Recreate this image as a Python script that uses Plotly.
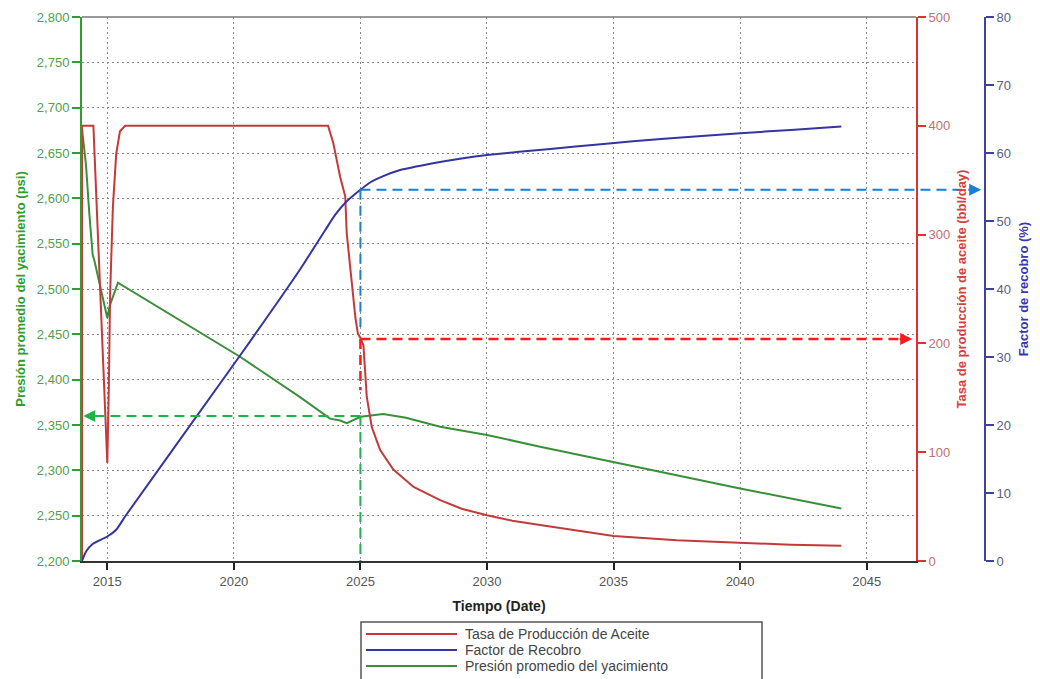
import plotly.graph_objects as go

# ---------------- data ----------------
rate_t = [2014.0, 2014.0, 2014.45, 2015.0, 2015.06, 2015.11, 2015.22,
          2015.35, 2015.5, 2015.7, 2023.72, 2023.93, 2024.2, 2024.4, 2024.46, 2024.6, 2024.8,
          2024.9, 2025.0, 2025.12, 2025.19, 2025.25, 2025.45, 2025.78, 2026.3, 2027.1,
          2028.15, 2029.0, 2030.0, 2031.0, 2032.1, 2033.5, 2035.0, 2037.5, 2040.0, 2042.0, 2044.0]
rate_v = [0, 400, 400, 90, 160, 245, 325,
          374, 395, 400, 400, 384, 353, 335, 301, 270, 224,
          209, 205, 198, 175, 151, 123, 102, 84, 68,
          56, 48, 42, 37, 33, 28, 23, 19, 16.5, 15, 14]

rf_t = [2014.0, 2014.16, 2014.42, 2015.0, 2015.35, 2015.75, 2020.26, 2022.6, 2023.6, 2024.0,
        2024.46, 2025.0, 2025.4, 2025.9, 2026.57, 2027.2, 2027.87, 2029.0, 2030.0, 2032.5,
        2034.5, 2037.0, 2040.0, 2042.0, 2044.0]
rf_v = [0, 1.4, 2.5, 3.6, 4.6, 6.8, 30.3, 42.8, 48.6, 50.9,
        52.9, 54.6, 55.7, 56.6, 57.5, 58.0, 58.5, 59.2, 59.7, 60.6,
        61.3, 62.1, 62.9, 63.4, 63.9]

p_t = [2014.0, 2014.16, 2014.29, 2014.42, 2014.5, 2015.0, 2015.1, 2015.42, 2020.26, 2022.6,
       2023.8, 2024.2, 2024.46, 2025.0, 2025.9, 2026.8, 2028.15, 2030.0, 2032.1, 2035.0, 2040.0, 2044.0]
p_v = [2677, 2636, 2583, 2538, 2530, 2468, 2482, 2507, 2425, 2381,
       2357, 2355, 2352, 2359, 2362, 2358, 2348, 2339, 2326, 2309, 2280, 2258]

x_ticks = [2015, 2020, 2025, 2030, 2035, 2040, 2045]
x_range = [2014.0, 2046.95]

legend_names = ["Tasa de Producción de Aceite", "Factor de Recobro", "Presión promedio del yacimiento"]

# read-off values (dashed guide lines)
guide_year = 2025
guide_p = 2360
guide_rate = 204
guide_rf = 54.6
guide_rate_low = 157
guide_rf_low = 34.4

# ---------------- styles ----------------
C_RATE = "#c43a3a"
C_RF = "#3535a0"
C_P = "#3a8f3a"
FONT = "Liberation Sans, Arial, sans-serif"

X_DOMAIN_END = 834 / 948
BLUE_POS = (985 - 82) / 948


def xpaper(xv):
    return (xv - x_range[0]) / (x_range[1] - x_range[0]) * X_DOMAIN_END


fig = go.Figure()
fig.add_trace(go.Scatter(x=rate_t, y=rate_v, mode="lines", name=legend_names[0],
                         line=dict(color=C_RATE, width=2), yaxis="y2", showlegend=False))
fig.add_trace(go.Scatter(x=rf_t, y=rf_v, mode="lines", name=legend_names[1],
                         line=dict(color=C_RF, width=2, shape="spline", smoothing=0.6),
                         yaxis="y3", showlegend=False))
fig.add_trace(go.Scatter(x=p_t, y=p_v, mode="lines", name=legend_names[2],
                         line=dict(color=C_P, width=2), yaxis="y", showlegend=False))

grid = dict(showgrid=True, gridcolor="#8a8a8a", gridwidth=1, griddash="2px,3px")

fig.update_layout(
    width=1040, height=679,
    margin=dict(l=82, r=10, t=17, b=118, pad=0),
    paper_bgcolor="white", plot_bgcolor="white",
    font=dict(family=FONT, size=13, color="#444"),
    xaxis=dict(domain=[0, X_DOMAIN_END], range=x_range, tickvals=x_ticks,
               ticks="outside", ticklen=7, tickwidth=2, tickcolor="#222",
               showline=True, linecolor="#333", linewidth=2, zeroline=False,
               tickfont=dict(size=13, color="#555"),
               title=dict(text="Tiempo (Date)", font=dict(size=14, color="#222", weight="bold"), standoff=14),
               **grid),
    yaxis=dict(range=[2200, 2800], dtick=50, tickformat=",", ticks="outside", ticklen=8,
               tickwidth=2, tickcolor="#2f9e2f", showline=True, linecolor="#2f9e2f", linewidth=2,
               zeroline=False, tickfont=dict(size=13, color="#4f9f4f"),
               title=dict(text="Presión promedio del yacimiento (psi)",
                          font=dict(size=13, color="#2f9e2f", weight="bold"), standoff=8),
               **grid),
    yaxis2=dict(overlaying="y", side="right", anchor="x", range=[0, 500], dtick=100,
                ticks="outside", ticklen=8, tickwidth=2, tickcolor="#e03030",
                showline=True, linecolor="#e03030", linewidth=2, showgrid=False, zeroline=False,
                tickfont=dict(size=13, color="#c07070"),
                title=dict(text="Tasa de producción de aceite (bbl/day)",
                           font=dict(size=13, color="#d84040", weight="bold"), standoff=8)),
    yaxis3=dict(overlaying="y", side="right", anchor="free", position=BLUE_POS, range=[0, 80], dtick=10,
                ticks="outside", ticklen=8, tickwidth=2, tickcolor="#4040a0",
                showline=True, linecolor="#4040a0", linewidth=2, showgrid=False, zeroline=False,
                tickfont=dict(size=13, color="#5a6080"),
                title=dict(text="Factor de recobro (%)",
                           font=dict(size=13, color="#3838b0", weight="bold"), standoff=8)),
)

shapes = []
# top border
shapes.append(dict(type="line", xref="paper", yref="paper", x0=0, x1=X_DOMAIN_END, y0=1, y1=1,
                   line=dict(color="#777", width=1.5)))
DASH = "10px,6px"
# green guide
shapes.append(dict(type="line", xref="x", yref="y", x0=guide_year, x1=x_range[0] + 0.3,
                   y0=guide_p, y1=guide_p, line=dict(color="#1db34a", width=2, dash=DASH)))
shapes.append(dict(type="line", xref="x", yref="y", x0=guide_year, x1=guide_year,
                   y0=guide_p, y1=2200, line=dict(color="#1db34a", width=2, dash=DASH)))
# red guide
shapes.append(dict(type="line", xref="x", yref="y2", x0=guide_year, x1=x_range[1] - 0.35,
                   y0=guide_rate, y1=guide_rate, line=dict(color="#ff1a1a", width=2.5, dash=DASH)))
shapes.append(dict(type="line", xref="x", yref="y2", x0=guide_year, x1=guide_year,
                   y0=guide_rate, y1=guide_rate_low, line=dict(color="#ff1a1a", width=2.5, dash=DASH)))
# blue guide
shapes.append(dict(type="line", xref="paper", yref="y3", x0=xpaper(guide_year), x1=BLUE_POS - 0.012,
                   y0=guide_rf, y1=guide_rf, line=dict(color="#1a7fd0", width=2, dash=DASH)))
shapes.append(dict(type="line", xref="x", yref="y3", x0=guide_year, x1=guide_year,
                   y0=guide_rf, y1=guide_rf_low, line=dict(color="#1a7fd0", width=2, dash=DASH)))

annotations = [
    dict(xref="x", yref="y", x=x_range[0] + 0.05, y=guide_p, ax=14, ay=0, text="", showarrow=True,
         arrowhead=2, arrowsize=1.2, arrowwidth=2, arrowcolor="#1db34a"),
    dict(xref="x", yref="y2", x=x_range[1] - 0.15, y=guide_rate, ax=-14, ay=0, text="", showarrow=True,
         arrowhead=2, arrowsize=1.2, arrowwidth=2, arrowcolor="#ff1a1a"),
    dict(xref="paper", yref="y3", x=BLUE_POS - 0.004, y=guide_rf, ax=-14, ay=0, text="", showarrow=True,
         arrowhead=2, arrowsize=1.2, arrowwidth=2, arrowcolor="#1a7fd0"),
]

# manual legend box
def py(px):
    return (561 - px) / 544

def pxx(px):
    return (px - 82) / 948

shapes.append(dict(type="rect", xref="paper", yref="paper", x0=pxx(361), x1=pxx(762), y0=py(622), y1=py(695),
                   line=dict(color="#555", width=1.5), fillcolor="white"))
for name, col, ypx in zip(legend_names, [C_RATE, C_RF, C_P], [634, 650, 666]):
    shapes.append(dict(type="line", xref="paper", yref="paper", x0=pxx(366), x1=pxx(457), y0=py(ypx), y1=py(ypx),
                       line=dict(color=col, width=2)))
    annotations.append(dict(xref="paper", yref="paper", x=pxx(463), y=py(ypx), xanchor="left", yanchor="middle",
                            text=name, showarrow=False, font=dict(size=14, color="#444", family=FONT)))

fig.update_layout(shapes=shapes, annotations=annotations)
fig.write_html("out.html")
